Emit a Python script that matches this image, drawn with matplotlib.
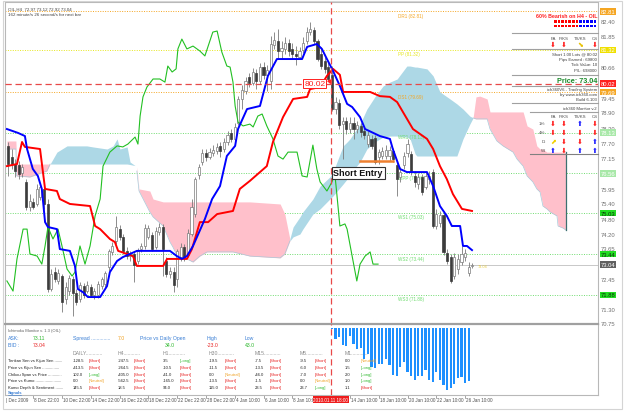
import matplotlib
matplotlib.use("Agg")
import matplotlib.pyplot as plt
import matplotlib.transforms as mtransforms
from matplotlib.lines import Line2D
from matplotlib.patches import Rectangle
import numpy as np

plt.rcParams['font.family'] = ['Liberation Sans', 'DejaVu Sans']

# ---------------- OIL H4 candles ----------------
opens = [77.62, 77.19, 76.92, 76.88, 76.57, 76.23, 75.26, 75.46, 75.38, 75.65,
         75.96, 75.38, 72.10, 72.75, 72.41, 72.60, 71.71, 72.02, 72.48, 71.94,
         71.71, 72.21, 72.02, 72.18, 71.87, 71.87, 72.21, 72.29, 72.95, 73.53,
         73.95, 74.41, 74.11, 73.57, 73.37, 73.45, 73.18, 73.64, 73.76, 74.11,
         74.18, 73.72, 74.30, 74.49, 73.18, 72.68, 72.75, 72.48, 73.33, 73.72,
         73.41, 74.22, 74.99, 76.50, 77.00, 77.35, 77.19, 77.35, 77.42, 77.62,
         77.50, 77.77, 78.12, 77.89, 78.50, 79.43, 79.74, 80.28, 80.05, 80.43,
         80.12, 80.66, 80.36, 80.12, 81.51, 81.67, 81.28, 81.36, 81.59, 81.36,
         81.17, 81.05, 81.32, 81.67, 82.01, 82.09, 81.67, 81.17, 80.90, 80.66,
         80.36, 79.04, 79.27, 78.46, 78.58, 78.27, 78.50, 78.27, 78.39, 78.19,
         77.69, 77.89, 77.92, 77.19, 77.23, 77.23, 77.23, 77.42, 76.88, 76.42,
         76.88, 77.35, 77.31, 76.46, 76.15, 76.42, 76.03, 76.34, 76.61, 74.53,
         74.65, 74.95, 73.49, 73.33, 72.60, 72.87, 73.14, 73.33, 72.72, 72.97]
closes = [76.92, 76.92, 76.65, 76.54, 76.81, 75.26, 75.49, 75.26, 75.96, 76.03,
          75.38, 72.10, 72.68, 72.48, 72.72, 71.60, 72.18, 72.52, 71.94, 71.60,
          72.25, 71.87, 72.25, 71.87, 72.02, 72.29, 72.48, 72.72, 73.57, 73.76,
          74.49, 74.11, 73.57, 73.37, 73.45, 73.03, 73.57, 73.76, 74.45, 74.45,
          73.64, 74.34, 74.49, 73.64, 72.68, 72.79, 72.25, 73.57, 73.72, 73.33,
          74.26, 75.26, 76.34, 76.81, 77.35, 77.19, 77.38, 77.46, 77.58, 77.42,
          77.77, 78.04, 77.89, 78.35, 79.43, 79.78, 80.12, 80.05, 80.47, 80.12,
          80.66, 80.36, 80.55, 81.55, 81.71, 81.28, 81.40, 81.59, 81.28, 81.17,
          81.09, 81.28, 81.59, 82.01, 82.13, 81.67, 80.97, 80.70, 80.59, 80.20,
          79.04, 79.31, 78.43, 78.58, 78.27, 78.50, 78.27, 78.43, 78.16, 78.04,
          78.04, 77.62, 77.00, 77.38, 77.42, 77.46, 77.46, 77.11, 76.34, 76.61,
          77.23, 77.69, 76.61, 76.23, 76.42, 75.84, 76.46, 76.46, 74.53, 74.99,
          74.95, 73.53, 73.18, 72.41, 73.33, 73.26, 73.45, 73.49, 72.95, 73.04]
highs = [77.77, 77.50, 77.11, 77.04, 76.92, 76.34, 75.76, 75.61, 76.15, 76.15,
         76.07, 75.57, 72.87, 72.95, 72.87, 72.68, 72.37, 72.64, 72.60, 72.10,
         72.37, 72.33, 72.41, 72.29, 72.14, 72.41, 72.56, 72.79, 73.64, 73.91,
         74.92, 74.57, 74.22, 73.72, 73.57, 73.57, 73.68, 73.87, 74.61, 74.57,
         74.30, 74.49, 74.65, 74.61, 73.33, 72.95, 72.95, 73.64, 73.87, 73.83,
         74.41, 75.57, 76.42, 76.92, 77.50, 77.50, 77.54, 77.65, 77.73, 77.77,
         77.92, 78.19, 78.27, 78.50, 79.54, 79.97, 80.28, 80.43, 80.63, 80.59,
         80.82, 80.86, 80.74, 81.86, 82.01, 82.13, 81.67, 81.82, 81.74, 81.59,
         81.47, 81.44, 81.82, 82.21, 82.40, 82.21, 81.74, 81.44, 81.05, 80.86,
         80.70, 79.51, 79.43, 78.73, 78.73, 78.73, 78.73, 78.58, 78.50, 78.35,
         78.19, 78.04, 78.04, 77.50, 77.58, 77.65, 77.62, 77.54, 77.00, 76.81,
         77.38, 77.89, 77.42, 76.65, 76.57, 76.54, 76.61, 76.65, 76.73, 75.19,
         75.11, 75.11, 73.64, 73.45, 73.49, 73.45, 73.76, 73.64, 73.14, 73.12]
lows = [76.46, 76.73, 76.42, 76.34, 76.42, 75.15, 75.11, 75.19, 75.30, 75.53,
        75.19, 71.98, 72.02, 72.37, 72.29, 71.21, 71.52, 71.87, 71.06, 71.48,
        71.60, 71.75, 71.94, 71.79, 71.71, 71.75, 72.10, 72.18, 72.79, 73.41,
        73.83, 73.99, 73.45, 73.26, 73.18, 72.37, 73.06, 73.53, 73.64, 74.03,
        73.57, 73.64, 74.18, 72.60, 72.56, 72.52, 71.98, 72.18, 73.18, 73.18,
        73.33, 74.14, 74.88, 76.34, 76.88, 77.04, 77.11, 77.23, 77.31, 77.19,
        77.38, 77.65, 77.77, 77.81, 78.43, 79.04, 79.62, 79.89, 79.97, 79.81,
        80.01, 80.20, 79.74, 79.81, 81.36, 80.97, 80.97, 81.17, 81.09, 80.97,
        80.74, 80.97, 81.20, 81.55, 81.90, 81.55, 80.90, 80.59, 80.43, 80.12,
        78.97, 78.85, 78.27, 77.11, 78.08, 78.12, 77.89, 78.12, 77.96, 77.89,
        77.58, 77.50, 76.92, 76.92, 77.11, 77.11, 77.04, 77.00, 75.69, 76.23,
        76.73, 77.19, 76.50, 76.03, 75.96, 75.73, 75.96, 76.15, 74.45, 74.41,
        74.49, 73.41, 73.06, 72.33, 72.48, 72.68, 73.03, 73.18, 72.60, 72.92]

# ---------------- Ichimoku lines (bar, price) ----------------
tenkan_x = [-0.3, 2.8, 4.7, 5.3, 6.9, 8.3, 9.4, 10.3, 11.1, 13.6, 14.4, 17.2, 18.6, 19.4,
            20.8, 22.2, 25.6, 27.5, 28.3, 30.3, 31.9, 35.8, 45.0, 46.9, 48.3, 49.7, 51.4,
            54.7, 56.7, 58.9, 60.8, 63.1, 63.9, 66.4, 70.0, 72.2, 74.7, 81.7, 83.1, 85.8,
            87.2, 88.6, 90.3, 92.2, 94.2, 95.6, 97.8, 99.2, 103.3, 106.1, 106.9, 108.9,
            110.8, 116.4, 118.1, 120.0, 121.9, 123.3, 125.6, 126.4, 127.5, 128.9]
tenkan_y = [78.27, 78.12, 78.00, 77.50, 76.73, 76.46, 75.96, 74.68, 74.49, 74.41, 73.64,
            73.57, 72.99, 72.10, 71.98, 71.79, 71.79, 72.21, 72.75, 73.18, 73.33, 73.57,
            73.57, 73.37, 73.26, 73.37, 73.76, 74.80, 75.57, 76.07, 77.23, 77.62, 78.27,
            79.04, 79.16, 80.32, 80.97, 80.97, 81.44, 81.55, 81.36, 80.97, 80.51, 79.93,
            79.24, 79.12, 78.73, 78.27, 78.00, 77.89, 77.50, 76.73, 76.61, 76.61, 76.07,
            75.30, 74.92, 74.53, 74.53, 73.76, 73.76, 73.60]
kijun_x = [-0.3, 2.5, 3.9, 4.7, 8.9, 10.3, 13.6, 14.4, 17.2, 22.8, 24.2, 25.6, 28.3, 29.7,
           30.6, 33.1, 34.7, 35.8, 43.1, 44.2, 49.7, 51.1, 53.3, 55.6, 58.1, 62.5, 64.4,
           67.2, 71.9, 73.6, 76.4, 79.2, 83.1, 83.9, 86.7, 88.6, 90.3, 92.2, 93.1, 100.6,
           103.3, 106.1, 108.1, 109.7, 112.5, 116.4, 118.1, 120.0, 121.9, 123.6, 126.1, 128.9]
kijun_y = [76.84, 76.92, 77.77, 77.58, 77.50, 75.96, 75.88, 75.57, 75.38, 75.30, 74.53,
           74.41, 74.03, 73.91, 73.57, 73.45, 73.37, 72.99, 72.99, 73.26, 73.26, 73.64,
           74.68, 74.68, 74.99, 75.11, 75.96, 76.27, 76.84, 77.77, 78.73, 79.43, 79.51,
           79.81, 79.89, 80.32, 80.59, 80.36, 79.70, 79.70, 79.54, 79.51, 79.31, 78.93,
           78.27, 77.89, 77.50, 76.84, 76.34, 75.76, 75.19, 75.11]
chikou_x = [-0.3, 1.4, 2.5, 4.2, 5.3, 6.1, 8.1, 9.4, 10.3, 11.1, 12.5, 13.9, 15.0, 16.4,
            17.8, 18.6, 20.0, 21.4, 22.8, 24.2, 25.6, 26.4, 28.3, 30.3, 31.9, 33.3, 35.3,
            36.1, 36.7, 37.5, 38.6, 40.3, 42.2, 43.6, 44.4, 45.6, 46.7, 47.2, 48.3, 49.7,
            51.4, 53.3, 54.7, 56.9, 58.1, 59.4, 60.8, 61.7, 62.5, 63.1, 63.9, 65.3, 67.2,
            68.1, 69.4, 70.6, 71.9, 73.6, 75.0, 76.4, 77.8, 80.3, 81.7, 83.1, 84.7, 85.8,
            86.7, 88.6, 90.0, 90.8, 91.4, 92.2, 93.6, 94.2, 95.6, 96.9, 97.8, 99.2, 100.6,
            101.4, 102.8]
chikou_y = [72.41, 72.02, 73.26, 74.41, 74.41, 73.45, 73.37, 73.06, 73.76, 74.49, 74.03,
            74.41, 73.76, 72.87, 72.60, 72.75, 73.76, 73.06, 73.76, 74.92, 75.57, 76.84,
            77.38, 77.62, 77.58, 77.69, 77.96, 77.69, 78.77, 79.51, 79.89, 80.20, 80.20,
            80.08, 80.70, 80.47, 80.59, 81.36, 81.74, 81.36, 81.47, 81.28, 81.09, 82.01,
            82.05, 81.24, 80.70, 80.66, 80.08, 79.16, 78.54, 78.39, 78.46, 78.35, 78.77,
            78.85, 78.39, 77.89, 77.23, 77.11, 77.38, 77.38, 76.46, 76.42, 77.65, 76.73,
            76.23, 75.88, 76.23, 76.54, 75.69, 74.53, 74.61, 74.41, 73.37, 72.41, 73.06,
            73.37, 73.53, 73.06, 73.06]

# ---------------- Kumo (cloud) pieces ----------------
kumo1_x = [-0.3, 2.2, 2.4, 6.1, 10.8, 11.7]
kumo1_top = [77.81, 77.81, 76.92, 76.92, 76.92, 76.92]
kumo1_bot = [77.50, 77.50, 76.46, 76.42, 76.65, 76.92]

kumo2_x = [11.7, 13.6, 16.4, 21.9, 23.6, 27.5, 29.2, 30.3, 31.1, 33.1, 33.9, 35.3, 35.8]
kumo2_top = [76.92, 77.38, 77.62, 77.62, 77.58, 77.50, 77.62, 77.89, 77.50, 77.58, 77.00, 76.86, 76.84]
kumo2_bot = [76.92, 76.92, 76.92, 76.92, 76.92, 76.92, 76.92, 76.92, 76.92, 76.92, 76.90, 76.86, 76.84]

kumo3_x = [35.8, 36.4, 39.4, 40.3, 43.1, 45.0, 45.8, 46.9, 49.7, 51.4, 53.3, 55.3, 62.5, 67.2, 75.6, 76.9, 78.3]
kumo3_top = [76.81, 75.96, 75.88, 75.57, 75.46, 75.46, 75.46, 75.46, 75.46, 75.46, 75.46, 75.46, 75.46,
             75.46, 75.38, 74.99, 74.03]
kumo3_bot = [76.65, 75.88, 75.07, 74.88, 74.53, 73.91, 73.72, 73.41, 73.26, 73.14, 73.37, 73.53, 73.53,
             73.37, 73.30, 73.45, 73.95]

kumo4_x = [78.3, 79.2, 81.1, 81.9, 84.7, 86.7, 89.4, 90.3, 93.1, 94.2, 95.0, 97.8, 99.7, 101.9, 104.2,
           106.1, 108.1, 110.8, 111.7, 113.1, 113.6, 116.4, 118.1, 120.0, 122.8, 124.7, 126.4, 128.3, 129.2]
kumo4_top = [74.03, 74.49, 74.88, 75.07, 75.57, 76.07, 76.42, 76.61, 77.62, 77.77, 77.89, 78.46, 79.04,
             79.51, 79.93, 80.08, 80.20, 80.70, 80.70, 80.66, 80.66, 80.59, 80.32, 79.70, 79.43, 79.24,
             79.04, 78.77, 78.70]
kumo4_bot = [73.95, 74.11, 74.22, 74.41, 74.99, 75.19, 75.57, 75.69, 76.15, 76.34, 76.54, 77.00, 77.50,
             77.77, 77.96, 78.00, 78.00, 77.96, 77.89, 77.31, 77.23, 77.23, 77.23, 77.23, 77.23, 77.23,
             77.89, 78.46, 78.70]

kumo5_x = [129.2, 130.0, 131.1, 133.1, 133.9, 135.8, 137.5, 140.3, 141.4, 143.1, 144.2, 145.8, 146.9,
           147.8, 148.6, 149.7, 150.6, 152.5, 152.8, 154.2, 155.0]
kumo5_top = [78.70, 79.51, 79.54, 79.43, 78.93, 78.93, 78.93, 78.93, 78.93, 78.93, 78.39, 78.27, 77.62,
             77.50, 77.50, 77.38, 77.38, 77.38, 77.38, 77.38, 77.38]
kumo5_bot = [78.70, 78.66, 78.66, 78.66, 78.27, 77.81, 77.62, 77.38, 77.11, 76.84, 76.46, 76.23, 75.96,
             75.84, 75.30, 75.19, 75.07, 74.92, 74.53, 74.45, 74.37]

# ---------------- pivots / levels ----------------
daily_names = ["DR1", "PP", "DS1"]
daily_levels = [82.81, 81.32, 79.69]
weekly_names = ["WR1", "WPP", "WS1", "WS2", "WS3"]
weekly_levels = [78.13, 76.56, 75.03, 73.44, 71.88]

price_ticks = [82.40, 81.85, 80.66, 79.45, 78.90, 78.30, 77.70, 77.15, 75.95, 75.40,
               74.80, 74.20, 73.65, 72.45, 71.30, 70.75]
last_price = 73.04
entry_price = 80.02
entry_bar = 89.7
entry_zone = [97.8, 106.9, 77.04]   # orange short-entry zone (from bar, to bar, price)

# ---------------- sub window histogram ----------------
hist_bars = list(range(90, 129))
hist_vals = [-1.4, -10.7, -9.0, -17.4, -18.0, -8.0, -15.7, -20.7, -20.0, -30.7, -25.7, -39.0,
             -40.0, -35.7, -35.7, -30.7, -37.4, -47.4, -48.0, -39.0, -34.0, -44.0, -48.0, -52.4,
             -48.0, -48.0, -42.4, -52.4, -54.0, -44.0, -52.4, -57.4, -62.4, -60.0, -55.7, -50.0,
             -49.0, -54.7, -53.4]

time_bars = [7, 15, 23, 31, 39, 47, 55, 63, 71, 79, 95, 103, 111, 119, 127]
time_labels = ["8 Dec 22:00", "10 Dec 22:00", "14 Dec 22:00", "16 Dec 22:00", "18 Dec 22:00",
               "22 Dec 22:00", "28 Dec 22:00", "4 Jan 10:00", "6 Jan 10:00", "8 Jan 10:00",
               "14 Jan 10:00", "18 Jan 10:00", "20 Jan 10:00", "22 Jan 10:00", "26 Jan 10:00"]

# ichimoku monitor table
row_names = ["Tenkan Sen vs Kijun Sen .......", "Price vs Kijun Sen ...............",
             "Chikou Span vs Price ............", "Price vs Kumo .......................",
             "Kumo Depth & Sentiment ......."]
tf_names = ["DAILY", "H4", "H1", "H30", "M15", "M5", "M1"]
table_values = [[-128.5, -247.5, 3.5, -19.5, -7.5, -9.5, 0.0],
                [-413.5, -264.5, -10.5, -11.5, -13.5, -6.0, 1.5],
                [102.0, -405.0, -41.0, 0.0, -46.0, -7.0, 2.0],
                [0.0, -562.5, -165.0, -13.5, -1.5, 0.0, 1.0],
                [145.5, 18.5, 94.0, 115.0, 23.5, 23.7, 1.1]]
table_tags = [["Short", "Short", "Long", "Short", "Short", "Short", "Neutral"],
              ["Short", "Short", "Short", "Short", "Short", "Short", "Long"],
              ["Long", "Short", "Short", "Neutral", "Short", "Short", "Long"],
              ["Neutral", "Short", "Short", "Short", "Short", "Neutral", "Long"],
              ["Short", "Short", "Short", "Short", "Short", "Long", "Short"]]

# ich360 monitor arrows
strength_colors = ["red"] * 7 + ["blue"] * 5
top_arrows = ["down", "down", "diag", "down"]
monitor_rows = ["1H:", "4H:", "D:", "W:"]
monitor_arrows = [["down", "down", "up", "down"],
                  ["down", "down", "down", "down"],
                  ["ydiag", "down", "down", "up"],
                  ["up", "down", "up", "up"]]

# ================= drawing =================
W, H = 625, 414
fig = plt.figure(figsize=(W / 100, H / 100), dpi=100)
fig.patch.set_facecolor("white")


def px_rect(left, top, right, bottom):
    return [left / W, 1 - bottom / H, (right - left) / W, (bottom - top) / H]


def ftext(px, py, s, **kw):
    kw.setdefault("va", "center")
    fig.text(px / W, 1 - py / H, s, **kw)


def fline(x0, x1, y0, y1, **kw):
    fig.add_artist(Line2D([x0 / W, x1 / W], [1 - y0 / H, 1 - y1 / H],
                          transform=fig.transFigure, **kw))


ax = fig.add_axes(px_rect(5, 3, 598, 325))
axs = fig.add_axes(px_rect(5, 325, 598, 396), sharex=ax)
ax.set_xlim(-0.83, 163.9)
ax.set_ylim(70.75, 83.17)
axs.set_ylim(-67, 4)
for a in (ax, axs):
    a.tick_params(left=False, bottom=False, labelleft=False, labelbottom=False)
    for s in a.spines.values():
        s.set_color("#b8b8b8")
        s.set_linewidth(0.8)
axs.spines["top"].set_linewidth(1.6)
axs.spines["top"].set_color("#a0a0a0")

# pivot lines
dcols = ["#f5a623", "#e6e61e", "#f5a623"]
for name, lev, col in zip(daily_names, daily_levels, dcols):
    ax.axhline(lev, color=col, ls=(0, (1, 1.5)), lw=0.7, zorder=1)
    ax.text(108.4, lev - 0.05, f"{name} ({lev:.2f})", color=col, fontsize=3.3, va="top", zorder=3)
for name, lev in zip(weekly_names, weekly_levels):
    ax.axhline(lev, color="#6fdc6f", ls=(0, (1, 1.5)), lw=0.7, zorder=1)
    ax.text(108.4, lev - 0.05, f"{name} ({lev:.2f})", color="#6fdc6f", fontsize=3.3, va="top", zorder=3)

ax.axhline(last_price, color="#c8c8c8", lw=0.7, zorder=1)

# kumo
pink, blue = "#ffc0cb", "#add8e6"
for kx, kt, kb, col in [(kumo1_x, kumo1_top, kumo1_bot, pink),
                        (kumo2_x, kumo2_top, kumo2_bot, blue),
                        (kumo3_x, kumo3_top, kumo3_bot, pink),
                        (kumo4_x, kumo4_top, kumo4_bot, blue),
                        (kumo5_x, kumo5_top, kumo5_bot, pink)]:
    ax.fill_between(kx, kb, kt, color=col, lw=0, zorder=2)
    if col == pink:
        ax.plot(kx, kb, color="#a9c8d8", lw=0.5, zorder=2)
ax.plot([kumo5_x[-1], kumo5_x[-1]], [kumo5_top[-1], kumo5_bot[-1]], color="#3d7070", lw=0.9, zorder=3)

# candles
o = np.array(opens); c = np.array(closes)
h = np.maximum(np.array(highs), np.maximum(o, c))
l = np.minimum(np.array(lows), np.minimum(o, c))
x = np.arange(len(o))
up = c >= o
ax.vlines(x, l, h, color="#7a7a7a", lw=0.6, zorder=4)
bb = np.minimum(o, c)
bh = np.maximum(np.abs(c - o), 0.02)
ax.bar(x[up], bh[up], bottom=bb[up], width=0.6, color="white", edgecolor="#7a7a7a", lw=0.5, zorder=5)
ax.bar(x[~up], bh[~up], bottom=bb[~up], width=0.6, color="#3c3c3c", edgecolor="#3c3c3c", lw=0.5, zorder=5)

# ichimoku lines
ax.plot(chikou_x, chikou_y, color="#22c022", lw=0.8, zorder=6)
ax.plot(kijun_x, kijun_y, color="#ff0000", lw=1.4, zorder=7)
ax.plot(tenkan_x, tenkan_y, color="#0000ff", lw=1.4, zorder=7)

# entry markers
ax.plot(entry_zone[:2], [entry_zone[2]] * 2, color="#ee8030", lw=1.8, zorder=6)
ax.axvline(entry_bar, color="#e84848", ls=(0, (5, 3)), lw=0.9, zorder=8)
axs.axvline(entry_bar, color="#e84848", ls=(0, (5, 3)), lw=0.9, zorder=8)
ax.axhline(entry_price, color="#e84848", ls=(0, (5, 3)), lw=0.9, zorder=8)
ax.text(85.2, entry_price, f"{entry_price:.2f}", color="#ff2020", fontsize=6, ha="center", va="center",
        zorder=10, bbox=dict(boxstyle="square,pad=0.12", fc="white", ec="#ff2020", lw=0.7))
ax.annotate("", xy=(90.1, 79.90), xytext=(88.8, 80.25), zorder=10,
            arrowprops=dict(arrowstyle="-|>", color="#ff2020", lw=0.9, mutation_scale=5))
ax.text(90.4, 76.58, "Short Entry", fontsize=6.5, fontweight="bold", color="#111111", va="center",
        ha="left", zorder=10, bbox=dict(boxstyle="square,pad=0.2", fc="white", ec="#333333", lw=0.8))
ax.text(130.6, last_price - 0.05, f"{last_price:.2f}", fontsize=2.8, color="#e8cc40", va="center", zorder=6)

# right price scale
tr = mtransforms.blended_transform_factory(ax.transAxes, ax.transData)
boxed = {82.81: ("#f5a623", "white"), 81.32: ("#f0e000", "white"), 80.02: ("#ff2020", "white"),
         79.69: ("#f5a623", "white"), 78.13: ("#a8e8a8", "white"), 76.56: ("#a8e8a8", "white"),
         75.03: ("#22dd22", "#0a300a"), 73.44: ("#22dd22", "#0a300a"), 73.04: ("#606060", "white"),
         71.88: ("#22dd22", "#0a300a")}
for p in price_ticks:
    ax.text(1.005, p, f"{p:.2f}", transform=tr, fontsize=4.2, color="#707070", va="center",
            ha="left", clip_on=False)
for p, (fc, tc) in boxed.items():
    ax.text(1.005, p, f"{p:.2f}", transform=tr, fontsize=4.2, color=tc, va="center", ha="left",
            clip_on=False, zorder=12, bbox=dict(boxstyle="square,pad=0.12", fc=fc, ec="none"))

# sub window histogram
axs.bar(hist_bars, hist_vals, width=0.62, color="#1e90ff", zorder=3)

# time scale
trs = mtransforms.blended_transform_factory(axs.transData, axs.transAxes)
axs.text(-0.5, -0.03, "| Dec 2009", transform=trs, fontsize=3.3, color="#505050", va="top", ha="left")
for b, lab in zip(time_bars, time_labels):
    axs.plot([b, b], [0, -0.04], transform=trs, color="#808080", lw=0.5, clip_on=False)
    axs.text(b + 0.3, -0.03, lab, transform=trs, fontsize=3.3, color="#505050", va="top", ha="left")
axs.text(entry_bar, -0.03, "2010.01.11 18:00", transform=trs, fontsize=3.3, color="white",
         va="top", ha="center", zorder=12, bbox=dict(boxstyle="square,pad=0.15", fc="#ee1c1c", ec="none"))

# title
ftext(8, 10, "OIL,H4  72.97 73.12 72.92 73.04", fontsize=3.2, color="#404040")
ftext(8, 15.5, "162 minute/s 26 second/s for next bar", fontsize=3.2, color="#404040")

# ichimoku monitor (sub window text)
blue_t, green_t, red_t, orange_t = "#3a7fd5", "#2db82d", "#e82525", "#f0a020"
ftext(8, 331, "Ichimoku Monitor v. 1.3 (OIL)", fontsize=3.0, color="#606060")
ftext(8, 339, "ASK:", fontsize=3.7, color=blue_t)
ftext(33, 339, "73.11", fontsize=3.7, color=green_t)
ftext(8, 345.5, "BID :", fontsize=3.7, color=blue_t)
ftext(33, 345.5, "73.04", fontsize=3.7, color=red_t)
ftext(73, 339, "Spread ..............", fontsize=3.7, color=blue_t)
ftext(118, 339, "7.0", fontsize=3.7, color=orange_t)
ftext(140, 339, "Price vs Daily Open", fontsize=3.7, color=blue_t)
ftext(165, 345.5, "34.0", fontsize=3.7, color=green_t)
ftext(207, 339, "High", fontsize=3.7, color=blue_t)
ftext(207, 345.5, "-23.0", fontsize=3.7, color=red_t)
ftext(245, 339, "Low", fontsize=3.7, color=blue_t)
ftext(245, 345.5, "43.0", fontsize=3.7, color=green_t)

val_x = [73, 118, 163, 209, 255, 300, 345]
tag_x = [89, 134, 180, 225, 270, 315, 361]
tag_col = {"Short": red_t, "Long": green_t, "Neutral": orange_t}
for vx, tf in zip(val_x, tf_names):
    ftext(vx, 353.5, tf + "............", fontsize=3.7, color="#8a8a8a")
row_y = [361.5, 368, 375, 381.5, 388]
for ry, name, vals, tags in zip(row_y, row_names, table_values, table_tags):
    ftext(8, ry, name, fontsize=3.0, color="#202020")
    for vx, tx, v, t in zip(val_x, tag_x, vals, tags):
        ftext(vx, ry, f"{v:.1f}", fontsize=3.0, color="#202020")
        ftext(tx, ry, f"[{t}]", fontsize=3.0, color=tag_col[t])
ftext(8, 393.5, "Signals", fontsize=3.0, color=blue_t, fontweight="bold")
fline(8, 21, 395.5, 395.5, color=blue_t, lw=0.4)

# right info panel
glyph = {"down": ("\u2b07", "#ff1a1a"), "up": ("\u2b06", "#1a1aff"), "diag": ("\u2b0a", "#e8c000"),
         "ydiag": ("\u2b08", "#f0d000")}
arrow_cols = [553, 564, 580, 595]
ftext(597, 17, "60% Bearish on H4 - OIL", ha="right", fontsize=3.8, fontweight="bold", color="#ff2020")
for ry in (22.5, 27):
    for i, col in enumerate(strength_colors):
        fig.add_artist(Rectangle(((554 + i * 3.6) / W, 1 - (ry + 1.3) / H), 2.6 / W, 2.6 / H,
                                 transform=fig.transFigure, color=col, lw=0))
fline(512, 598, 34, 34, color="#a0a0a0", lw=0.8)
for xc, s in zip(arrow_cols, ["PA", "P/KS", "TS/KS", "CS"]):
    ftext(xc, 39, s, ha="center", fontsize=3.2, color="#505050")
for xc, a in zip(arrow_cols, top_arrows):
    g, col = glyph[a]
    ftext(xc, 45, g, ha="center", fontsize=5, color=col, family="DejaVu Sans")
fline(512, 598, 50, 50, color="#a0a0a0", lw=0.8)
ftext(597, 54.5, "Short 1.00 Lots @ 80.02", ha="right", fontsize=3.1, color="#404040")
ftext(597, 60, "Pips Earned : 69800", ha="right", fontsize=3.1, color="#404040")
ftext(597, 65.5, "Tick Value: 10", ha="right", fontsize=3.1, color="#404040")
ftext(597, 71, "P/L: 698000", ha="right", fontsize=3.1, color="#404040")
fline(512, 598, 76, 76, color="#a0a0a0", lw=0.8)
ftext(597, 81.3, "Price: 73.04", ha="right", fontsize=5.2, fontweight="bold", color="#1a8a2a")
fline(512, 598, 86.5, 86.5, color="#a0a0a0", lw=0.8)
ftext(597, 89.8, "ich360V6 - Trading System", ha="right", fontsize=3.1, color="#404040")
ftext(597, 94.8, "by www.ich360.com", ha="right", fontsize=3.1, color="#404040")
ftext(597, 99.8, "Build 6.103", ha="right", fontsize=3.1, color="#404040")
fline(512, 598, 104, 104, color="#a0a0a0", lw=0.8)
ftext(597, 109, "ich360 Monitor v.2", ha="right", fontsize=3.1, color="#404040")
fline(530, 598, 113, 113, color="#a0a0a0", lw=0.8)
for xc, s in zip(arrow_cols, ["PA", "P/KS", "TS/KS", "CS"]):
    ftext(xc, 117, s, ha="center", fontsize=3.2, color="#505050")
for ry, lab, arr in zip([124, 133, 142, 151], monitor_rows, monitor_arrows):
    ftext(546, ry, lab, ha="right", fontsize=3.2, color="#505050")
    for xc, a in zip(arrow_cols, arr):
        g, col = glyph[a]
        ftext(xc, ry, g, ha="center", fontsize=5, color=col, family="DejaVu Sans")
fline(530, 598, 155, 155, color="#808080", lw=0.8)

# outer frame
fig.add_artist(Rectangle((3 / W, 1 - 410 / H), 619 / W, 408 / H, transform=fig.transFigure,
                         fill=False, ec="#d4d4d4", lw=0.8))

fig.savefig("out.png", dpi=100)
